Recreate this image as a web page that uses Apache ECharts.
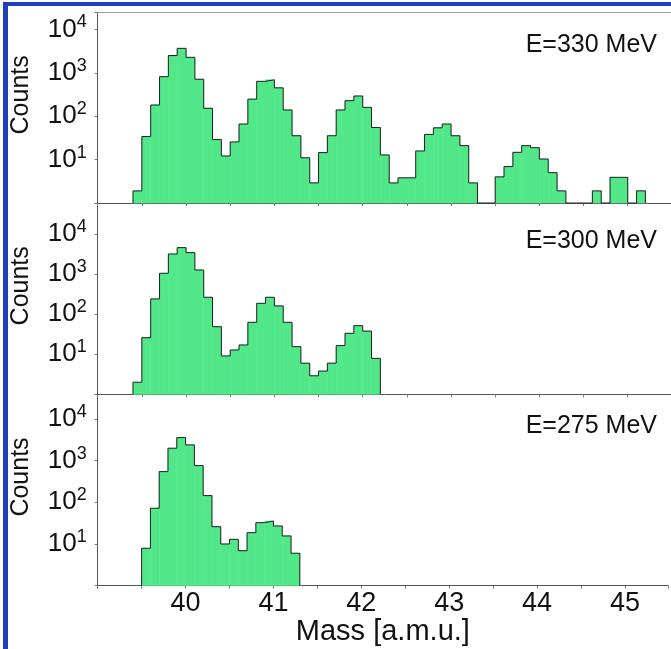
<!DOCTYPE html>
<html><head><meta charset="utf-8">
<script src="https://cdn.jsdelivr.net/npm/echarts@6/dist/echarts.min.js"></script>
<style>html,body{margin:0;padding:0;background:#fff}#c{width:671px;height:649px}</style>
</head><body><div id="c"></div>
<script>
// ---- data ----
const BIN_WIDTH = 0.1;
const energyLabels = ['E=330 MeV', 'E=300 MeV', 'E=275 MeV'];
const xTickLabels = [40, 41, 42, 43, 44, 45];
const yTickLabels = [10, 100, 1000, 10000];

const p1Start = 39.4; // E=330 MeV
const p1Counts = [1.9, 34, 181, 815, 2500, 3660, 2270, 710, 152, 29,
  12.1, 25.5, 66, 247, 635, 690, 450, 139, 35.5, 11,
  2.9, 14.5, 35.5, 139, 228, 292, 160, 55, 12.8, 2.9,
  3.8, 3.8, 15.8, 38, 54, 66, 35.5, 21, 2.9, null,
  null, 4.0, 6.9, 14.7, 21, 18.8, 10.3, 5.0, 1.9, null,
  null, null, 1.9, null, 3.9, 3.9, null, 1.9];

const p2Start = 39.4; // E=300 MeV
const p2Counts = [2.0, 26, 242, 1060, 3220, 4640, 3480, 1280, 266, 49,
  9.1, 12.8, 17.1, 63, 188, 266, 162, 63, 15.5, 6.0,
  2.9, 3.8, 6.0, 16.5, 33.5, 52, 38, 7.9];

const p3Start = 39.5; // E=275 MeV
const p3Counts = [7.9, 72, 545, 1980, 3560, 2380, 760, 145, 26, 10,
  12.9, 6.9, 18.7, 32.5, 35.6, 27, 15.6, 6.0];

// ---- layout ----
const GREEN = '#52E88A';
const FONT = 'Liberation Sans';
const panels = [
  { start: p1Start, counts: p1Counts, top: 12.7, height: 190.3, maxExp: 4.385, labelY: 47 },
  { start: p2Start, counts: p2Counts, top: 203.3, height: 191, maxExp: 4.775, labelY: 243 },
  { start: p3Start, counts: p3Counts, top: 394.3, height: 191.4, maxExp: 4.59, labelY: 428 }
];

function build(start, counts) {
  const rects = [], outline = [];
  let inRun = false, lastX1 = start;
  counts.forEach((c, i) => {
    const x0 = +(start + i * BIN_WIDTH).toFixed(3);
    const x1 = +(x0 + BIN_WIDTH).toFixed(3);
    if (c == null) {
      if (inRun) { outline.push([x0, 1]); inRun = false; }
      return;
    }
    rects.push([x0, c]);
    if (!inRun) { outline.push([x0, 1]); inRun = true; }
    outline.push([x0, c], [x1, c]);
    lastX1 = x1;
  });
  if (inRun) outline.push([lastX1, 1]);
  return { rects, outline };
}

const grid = [], xAxis = [], yAxis = [], series = [], graphic = [];
panels.forEach((p, i) => {
  grid.push({ left: 97.7, right: -2, top: p.top, height: p.height });
  xAxis.push({
    gridIndex: i, type: 'value', min: 39, max: 45.49, interval: 0.5,
    axisLine: { show: true, lineStyle: { color: '#555', width: 1 } },
    axisTick: { show: true, length: 3, inside: false, lineStyle: { color: '#777' } },
    splitLine: { show: false },
    axisLabel: {
      show: i === 2, margin: 4, color: '#111', fontSize: 27, fontFamily: FONT,
      formatter: v => (Math.abs(v - Math.round(v)) < 1e-6 && xTickLabels.indexOf(Math.round(v)) >= 0) ? String(Math.round(v)) : ''
    },
    name: i === 2 ? 'Mass [a.m.u.]' : '', nameLocation: 'middle', nameGap: 20,
    nameTextStyle: { color: '#111', fontSize: 29, fontFamily: FONT }
  });
  yAxis.push({
    gridIndex: i, type: 'log', logBase: 10, min: 1, max: Math.pow(10, p.maxExp),
    axisLine: { show: true, lineStyle: { color: '#555', width: 1 } },
    axisTick: { show: true, length: 3, lineStyle: { color: '#777' } },
    splitLine: { show: false },
    axisLabel: {
      margin: 11, color: '#111',
      formatter: v => {
        const e = Math.round(Math.log10(v));
        if (yTickLabels.indexOf(Math.pow(10, e)) >= 0 && Math.abs(Math.log10(v) - e) < 1e-6) return '{a|10}{b|' + e + '}';
        return '';
      },
      rich: {
        a: { fontSize: 26, lineHeight: 32, fontFamily: FONT, color: '#111' },
        b: { fontSize: 18, lineHeight: 18, verticalAlign: 'top', fontFamily: FONT, color: '#111' }
      }
    },
    name: 'Counts', nameLocation: 'middle', nameGap: 64, nameRotate: 90,
    nameTextStyle: { color: '#111', fontSize: 25, fontFamily: FONT, padding: [0, 0, 0, 26] }
  });
  const d = build(p.start, p.counts);
  series.push({
    type: 'custom', xAxisIndex: i, yAxisIndex: i, z: 2, data: d.rects,
    renderItem: (params, api) => {
      const x0 = api.value(0), v = api.value(1);
      const a = api.coord([x0, v]);
      const b = api.coord([x0 + BIN_WIDTH, 1]);
      return { type: 'rect', shape: { x: a[0], y: a[1], width: b[0] - a[0], height: b[1] - a[1] },
        style: { fill: GREEN, stroke: GREEN, lineWidth: 0.6 } };
    }
  });
  series.push({
    type: 'line', xAxisIndex: i, yAxisIndex: i, z: 3, data: d.outline, symbol: 'none',
    lineStyle: { color: '#222', width: 1 }, clip: false
  });
  graphic.push({ type: 'text', right: 14, top: p.labelY - 14,
    style: { text: energyLabels[i], fontSize: 25, fontFamily: FONT, fill: '#111' } });
});
// top frame line of the first panel
xAxis.push({
  gridIndex: 0, type: 'value', position: 'top', min: 39, max: 45.49,
  axisLine: { show: true, lineStyle: { color: '#a0a0a0', width: 1 } },
  axisTick: { show: false }, axisLabel: { show: false }, splitLine: { show: false }
});
graphic.push({ type: 'rect', shape: { x: 3, y: 2, width: 5, height: 647 }, style: { fill: '#1f3fbf' } });
graphic.push({ type: 'rect', shape: { x: 3, y: 2, width: 668, height: 4 }, style: { fill: '#1f3fbf' } });

const chart = echarts.init(document.getElementById('c'), null, { renderer: 'canvas' });
chart.setOption({ animation: false, backgroundColor: '#fff', grid, xAxis, yAxis, series, graphic });
</script></body></html>
